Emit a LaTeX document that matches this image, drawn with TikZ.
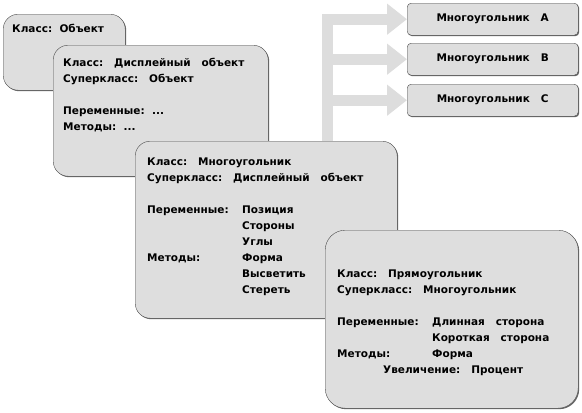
\documentclass[tikz,border=0pt]{standalone}
\usepackage{fontspec}
\setmainfont{DejaVu Sans}
\usepackage{tikz}
\usetikzlibrary{arrows.meta, positioning, calc, shadows}

\definecolor{boxgray}{RGB}{222,222,222}
\definecolor{arrowgray}{RGB}{221,221,221}
\newcommand{\fld}[2][95pt]{\makebox[#1][l]{#2}}

\begin{document}
\begin{tikzpicture}[x=1pt, y=-1pt,
    classbox/.style={draw=black!70, fill=boxgray, rounded corners=15pt, anchor=north west, inner sep=0pt,
        drop shadow={shadow xshift=1pt, shadow yshift=-1pt, fill=black!60, opacity=1}},
    smallbox/.style={draw=black!70, fill=boxgray, rounded corners=4pt, minimum width=171pt, minimum height=32pt,
        anchor=north west, font=\fontsize{10.5}{13}\selectfont\bfseries,
        drop shadow={shadow xshift=1pt, shadow yshift=-1pt, fill=black!60, opacity=1}},
    txt/.style={anchor=north west, inner sep=0pt, align=left, font=\fontsize{10.5}{16}\selectfont\bfseries},
    bigarrow/.style={arrowgray, line width=11pt, -{Triangle[width=30pt, length=20pt]}}]
    \useasboundingbox (0,0) rectangle (582,413);

    % подклассы
    \node[smallbox] (pa) at (407,3) {Многоугольник~~~A};
    \node[smallbox] (pb) at (407,43) {Многоугольник~~~B};
    \node[smallbox] (pc) at (407,84) {Многоугольник~~~C};

    % стрелки
    \coordinate (stem) at (327.5,141);
    \draw[bigarrow] (stem) |- (pa.west);
    \draw[bigarrow] (stem) |- (pb.west);
    \draw[bigarrow] (stem) |- (pc.west);

    % классы
    \node[classbox, minimum width=122pt, minimum height=76pt] (obj) at (3,14) {};
    \node[txt] (t-obj) at (12,24) {Класс:~~Объект};

    \node[classbox, minimum width=215pt, minimum height=131pt] (disp) at (53,45) {};
    \node[txt] (t-disp) at (63,58) {Класс:~~~Дисплейный~~~объект\\
        Суперкласс:~~~Объект\\[16pt]
        Переменные:~~...\\
        Методы:~~...};

    \node[classbox, minimum width=262pt, minimum height=177pt] (poly) at (135,141) {};
    \node[txt] (t-poly) at (147,158) {Класс:~~~Многоугольник\\
        Суперкласс:~~~Дисплейный~~~объект\\[16pt]
        \fld{Переменные:}Позиция\\
        \fld{}Стороны\\
        \fld{}Углы\\
        \fld{Методы:}Форма\\
        \fld{}Высветить\\
        \fld{}Стереть};

    \node[classbox, rounded corners=20pt, minimum width=253pt, minimum height=178pt] (rect) at (325,230) {};
    \node[txt] (t-rect) at (337,270) {Класс:~~~Прямоугольник\\
        Суперкласс:~~~Многоугольник\\[16pt]
        \fld{Переменные:}Длинная~~~сторона\\
        \fld{}Короткая~~~сторона\\
        \fld{Методы:}Форма\\
        \fld[46pt]{}Увеличение:~~~Процент};
\end{tikzpicture}
\end{document}
